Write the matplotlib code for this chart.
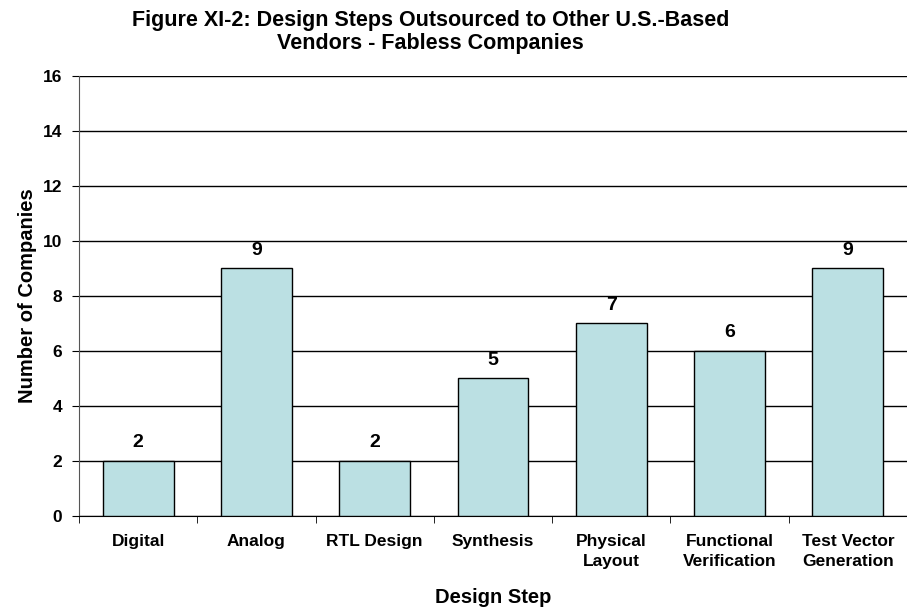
import matplotlib.pyplot as plt
import numpy as np

plt.rcParams['font.family'] = ['Liberation Sans', 'DejaVu Sans']
plt.rcParams['font.weight'] = 'bold'

steps = ["Digital", "Analog", "RTL Design", "Synthesis", "Physical\nLayout",
         "Functional\nVerification", "Test Vector\nGeneration"]
companies = [2, 9, 2, 5, 7, 6, 9]
yticks = [0, 2, 4, 6, 8, 10, 12, 14, 16]

fig = plt.figure(figsize=(9.07, 6.14), dpi=100)
ax = fig.add_axes([0.0871, 0.1596, 0.9129, 0.7174])

x = np.arange(len(steps))
ax.bar(x, companies, width=0.6, color="#BBE0E3", edgecolor="black", linewidth=1, zorder=3)
for xi, v in zip(x, companies):
    ax.text(xi, v + 0.35, str(v), ha="center", va="bottom", fontsize=14, fontweight="bold")

ax.set_xlim(-0.5, len(steps) - 0.5)
ax.set_ylim(0, 16)
ax.set_yticks(yticks)
ax.yaxis.grid(True, color="black", linewidth=1, zorder=0)
ax.set_axisbelow(True)

# category labels centred under bars, tick marks between categories
ax.set_xticks(x)
ax.set_xticklabels(steps, fontsize=12.5, fontweight="bold", linespacing=1.45)
ax.tick_params(axis="x", length=0, pad=13)
ax.set_xticks(np.arange(len(steps) + 1) - 0.5, minor=True)
ax.tick_params(axis="x", which="minor", length=5, color="black")
ax.tick_params(axis="y", length=5, labelsize=12.5, pad=7)
for lab in ax.get_yticklabels():
    lab.set_fontweight("bold")

for s in ["top", "right"]:
    ax.spines[s].set_visible(False)
ax.spines["left"].set_color("#555555")
ax.spines["bottom"].set_color("black")

ax.set_ylabel("Number of Companies", fontsize=14.5, fontweight="bold", labelpad=4)
ax.set_xlabel("Design Step", fontsize=14.5, fontweight="bold", labelpad=13)

fig.text(0.475, 0.948, "Figure XI-2: Design Steps Outsourced to Other U.S.-Based\nVendors - Fabless Companies",
         ha="center", va="center", fontsize=15.5, fontweight="bold", linespacing=1.15)

fig.savefig("out.png", dpi=100)
